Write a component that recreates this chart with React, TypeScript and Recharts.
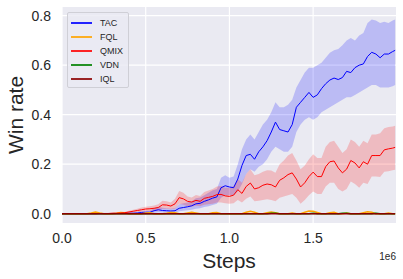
import {
  Area,
  CartesianGrid,
  ComposedChart,
  Label,
  Legend,
  Line,
  XAxis,
  YAxis,
} from "recharts";

// ---------------------------------------------------------------------------
// Data (win rate vs. environment steps, one value per 25k steps)
// ---------------------------------------------------------------------------

const STEPS = [...Array.from({ length: 80 }, (_, i) => i * 25000), 1990000];

const TAC_MEAN = [
  0, 0, 0, 0, 0, 0, 0, 0, 0, 0,
  0, 0, 0.001, 0.001, 0.001, 0.002, 0.002, 0.002, 0.003, 0.005,
  0.006, 0.006, 0.012, 0.016, 0.013, 0.012, 0.011, 0.012, 0.022, 0.025,
  0.028, 0.032, 0.04, 0.042, 0.05, 0.056, 0.063, 0.068, 0.105, 0.113,
  0.108, 0.105, 0.14, 0.195, 0.235, 0.24, 0.22, 0.25, 0.27, 0.295,
  0.33, 0.37, 0.34, 0.335, 0.33, 0.36, 0.43, 0.45, 0.47, 0.49,
  0.47, 0.48, 0.505, 0.525, 0.54, 0.548, 0.542, 0.55, 0.575, 0.57,
  0.59, 0.6, 0.605, 0.635, 0.652, 0.645, 0.63, 0.645, 0.645, 0.655,
  0.66,
];
const TAC_LO = [
  0, 0, 0, 0, 0, 0, 0, 0, 0, 0,
  0, 0, 0, 0, 0, 0, 0, 0, 0, 0.001,
  0.002, 0.002, 0.004, 0.006, 0.005, 0.004, 0.004, 0.004, 0.01, 0.012,
  0.014, 0.016, 0.02, 0.022, 0.027, 0.03, 0.035, 0.04, 0.065, 0.075,
  0.075, 0.075, 0.09, 0.12, 0.16, 0.18, 0.17, 0.19, 0.2, 0.22,
  0.25, 0.27, 0.26, 0.25, 0.25, 0.27, 0.33, 0.36, 0.38, 0.39,
  0.38, 0.39, 0.41, 0.42, 0.43, 0.44, 0.45, 0.46, 0.47, 0.47,
  0.48, 0.49, 0.5, 0.51, 0.52, 0.52, 0.51, 0.51, 0.51, 0.515,
  0.52,
];
const TAC_HI = [
  0, 0, 0, 0, 0, 0, 0, 0, 0, 0,
  0, 0, 0.002, 0.002, 0.003, 0.004, 0.004, 0.005, 0.007, 0.01,
  0.012, 0.012, 0.022, 0.028, 0.024, 0.022, 0.02, 0.022, 0.038, 0.042,
  0.045, 0.05, 0.062, 0.066, 0.075, 0.085, 0.095, 0.1, 0.145, 0.155,
  0.145, 0.15, 0.2, 0.26, 0.3, 0.32, 0.3, 0.33, 0.36, 0.38,
  0.41, 0.45, 0.43, 0.43, 0.44, 0.46, 0.51, 0.54, 0.57, 0.59,
  0.59, 0.6, 0.61, 0.63, 0.65, 0.66, 0.665, 0.68, 0.7, 0.71,
  0.7, 0.72, 0.73, 0.77, 0.785, 0.78, 0.77, 0.775, 0.77, 0.78,
  0.785,
];

const QMIX_MEAN = [
  0, 0, 0, 0, 0, 0, 0, 0, 0, 0.001,
  0.001, 0.001, 0.002, 0.002, 0.003, 0.004, 0.007, 0.01, 0.013, 0.016,
  0.019, 0.02, 0.022, 0.025, 0.036, 0.035, 0.031, 0.04, 0.065, 0.06,
  0.05, 0.047, 0.054, 0.05, 0.062, 0.066, 0.07, 0.077, 0.078, 0.072,
  0.07, 0.075, 0.097, 0.082, 0.11, 0.124, 0.1, 0.105, 0.115, 0.12,
  0.117, 0.108, 0.135, 0.145, 0.158, 0.165, 0.14, 0.108, 0.125, 0.15,
  0.168, 0.15, 0.15, 0.19, 0.21, 0.213, 0.185, 0.165, 0.18, 0.215,
  0.205, 0.185, 0.21, 0.2, 0.235, 0.235, 0.235, 0.258, 0.262, 0.265,
  0.268,
];
const QMIX_LO = [
  0, 0, 0, 0, 0, 0, 0, 0, 0, 0,
  0, 0, 0, 0, 0, 0, 0.002, 0.004, 0.006, 0.008,
  0.01, 0.011, 0.012, 0.013, 0.02, 0.02, 0.018, 0.02, 0.04, 0.036,
  0.03, 0.028, 0.032, 0.03, 0.036, 0.038, 0.04, 0.045, 0.045, 0.042,
  0.04, 0.042, 0.055, 0.045, 0.06, 0.07, 0.05, 0.052, 0.055, 0.058,
  0.055, 0.05, 0.065, 0.07, 0.075, 0.08, 0.065, 0.04, 0.055, 0.075,
  0.09, 0.08, 0.08, 0.11, 0.125, 0.125, 0.1, 0.09, 0.1, 0.13,
  0.12, 0.105, 0.125, 0.12, 0.15, 0.15, 0.148, 0.17, 0.172, 0.176,
  0.178,
];
const QMIX_HI = [
  0, 0, 0, 0, 0, 0, 0, 0, 0, 0.002,
  0.002, 0.003, 0.004, 0.004, 0.005, 0.008, 0.012, 0.016, 0.02, 0.025,
  0.028, 0.03, 0.033, 0.038, 0.052, 0.05, 0.045, 0.06, 0.092, 0.085,
  0.07, 0.066, 0.076, 0.072, 0.088, 0.094, 0.1, 0.11, 0.112, 0.105,
  0.105, 0.112, 0.14, 0.125, 0.16, 0.18, 0.155, 0.16, 0.17, 0.176,
  0.175, 0.165, 0.2, 0.215, 0.235, 0.245, 0.215, 0.18, 0.195, 0.22,
  0.24, 0.225, 0.225, 0.27, 0.29, 0.295, 0.27, 0.245, 0.26, 0.3,
  0.29, 0.27, 0.295, 0.285, 0.32, 0.32, 0.325, 0.345, 0.35, 0.352,
  0.355,
];

const FQL_MEAN = [
  0, 0, 0, 0, 0, 0, 0, 0.003, 0.007, 0.003,
  0, 0, 0, 0.002, 0.005, 0.004, 0, 0, 0, 0,
  0.003, 0.004, 0, 0, 0, 0.002, 0.005, 0.004, 0, 0,
  0.003, 0.006, 0.003, 0, 0, 0, 0.004, 0.005, 0, 0,
  0, 0, 0, 0, 0.006, 0.01, 0.006, 0, 0, 0.004,
  0.007, 0.004, 0, 0, 0, 0.003, 0, 0, 0.006, 0.011,
  0.01, 0.005, 0, 0, 0.004, 0.006, 0, 0, 0.003, 0,
  0, 0, 0.004, 0.008, 0.006, 0, 0, 0, 0.003, 0,
  0,
];
const VDN_MEAN = [
  0, 0, 0, 0, 0, 0, 0, 0, 0, 0,
  0, 0, 0, 0, 0, 0, 0, 0, 0, 0,
  0, 0, 0, 0, 0, 0, 0, 0, 0, 0,
  0, 0, 0, 0, 0, 0, 0, 0, 0, 0,
  0, 0, 0, 0, 0, 0, 0, 0, 0, 0,
  0.002, 0.002, 0, 0, 0, 0, 0, 0, 0, 0,
  0.002, 0, 0, 0, 0, 0, 0, 0.002, 0.002, 0,
  0, 0, 0, 0, 0, 0.002, 0, 0, 0, 0,
  0,
];
const IQL_MEAN = [
  0, 0, 0, 0, 0, 0, 0, 0, 0, 0,
  0, 0, 0, 0, 0, 0, 0, 0, 0, 0,
  0, 0, 0, 0, 0, 0, 0, 0, 0, 0,
  0, 0, 0, 0, 0, 0, 0, 0, 0, 0,
  0, 0, 0, 0, 0, 0, 0, 0, 0, 0,
  0, 0, 0, 0, 0, 0, 0, 0, 0, 0,
  0, 0, 0, 0, 0, 0, 0, 0, 0, 0,
  0, 0, 0, 0, 0, 0, 0, 0, 0, 0,
  0,
];

const X_TICKS = [0, 500000, 1000000, 1500000];
const Y_TICKS = [0, 0.2, 0.4, 0.6, 0.8];

const SERIES = [
  { name: "TAC", color: "#0000ff" },
  { name: "FQL", color: "#ffa500" },
  { name: "QMIX", color: "#ff0000" },
  { name: "VDN", color: "#008000" },
  { name: "IQL", color: "#8b0000" },
];

const data = STEPS.map((step, i) => ({
  step,
  tac: TAC_MEAN[i],
  tacBand: [TAC_LO[i], TAC_HI[i]],
  qmix: QMIX_MEAN[i],
  qmixBand: [QMIX_LO[i], QMIX_HI[i]],
  fql: FQL_MEAN[i],
  vdn: VDN_MEAN[i],
  iql: IQL_MEAN[i],
}));

const FONT = '"Liberation Sans", Arial, sans-serif';
const TEXT = "#262626";

// ---------------------------------------------------------------------------
// Legend + axis labels
// ---------------------------------------------------------------------------

function LegendBox() {
  return (
    <div
      style={{
        width: 60,
        padding: "3px 0 1px 0",
        background: "rgba(234,234,242,0.8)",
        border: "1px solid #cfcfd6",
        borderRadius: 2,
        fontFamily: FONT,
        fontSize: 9,
        color: TEXT,
      }}
    >
      {SERIES.map((s) => (
        <div
          key={s.name}
          style={{ display: "flex", alignItems: "center", height: 14 }}
        >
          <div
            style={{
              width: 21,
              height: 1.5,
              marginLeft: 3,
              marginRight: 8,
              background: s.color,
              opacity: 0.85,
            }}
          />
          <span>{s.name}</span>
        </div>
      ))}
    </div>
  );
}

type ViewBox = { x: number; y: number; width: number; height: number };

function YLabel(props: { viewBox?: ViewBox }) {
  const vb = props.viewBox;
  if (!vb) return null;
  const cx = vb.x + 15;
  const cy = vb.y + vb.height / 2;
  return (
    <text
      x={cx}
      y={cy}
      transform={`rotate(-90 ${cx} ${cy})`}
      textAnchor="middle"
      dominantBaseline="central"
      fill={TEXT}
      fontSize={21}
      fontFamily={FONT}
    >
      Win rate
    </text>
  );
}

function OffsetLabel(props: { viewBox?: ViewBox }) {
  const vb = props.viewBox;
  if (!vb) return null;
  return (
    <text
      x={vb.x + vb.width}
      y={vb.y + 37}
      textAnchor="end"
      fill={TEXT}
      fontSize={10}
      fontFamily={FONT}
    >
      1e6
    </text>
  );
}

// ---------------------------------------------------------------------------
// Chart
// ---------------------------------------------------------------------------

export default function App() {
  return (
    <div style={{ position: "absolute", left: 0, top: 0, background: "#fff" }}>
      <ComposedChart
        width={403}
        height={279}
        data={data}
        margin={{ top: 7, right: 7, left: 0, bottom: 0 }}
      >
        <CartesianGrid
          fill="#eaeaf2"
          stroke="#ffffff"
          strokeWidth={1.2}
          horizontalValues={Y_TICKS}
          verticalValues={X_TICKS}
        />
        <XAxis
          dataKey="step"
          type="number"
          domain={[0, 1995000]}
          ticks={X_TICKS}
          allowDataOverflow
          height={56}
          axisLine={false}
          tickLine={false}
          tickSize={0}
          tickMargin={10}
          tick={{ fill: TEXT, fontSize: 14, fontFamily: FONT }}
          tickFormatter={(v: number) => (v / 1e6).toFixed(1)}
        >
          <Label
            value="Steps"
            position="insideBottom"
            offset={11}
            style={{ fill: TEXT, fontSize: 21, fontFamily: FONT }}
          />
          <Label content={<OffsetLabel />} />
        </XAxis>
        <YAxis
          type="number"
          domain={[-0.0375, 0.835]}
          ticks={Y_TICKS}
          allowDataOverflow
          width={62}
          axisLine={false}
          tickLine={false}
          tickSize={0}
          tickMargin={11}
          tick={{ fill: TEXT, fontSize: 14, fontFamily: FONT }}
          tickFormatter={(v: number) => v.toFixed(1)}
        >
          <Label content={<YLabel />} />
        </YAxis>
        <Legend
          layout="vertical"
          align="center"
          verticalAlign="middle"
          content={<LegendBox />}
          wrapperStyle={{ left: 67, top: 12, width: 62 }}
        />
        <Area
          dataKey="tacBand"
          stroke="none"
          fill="#0000ff"
          fillOpacity={0.2}
          isAnimationActive={false}
          legendType="none"
        />
        <Area
          dataKey="qmixBand"
          stroke="none"
          fill="#ff0000"
          fillOpacity={0.2}
          isAnimationActive={false}
          legendType="none"
        />
        <Line
          dataKey="tac"
          stroke="#0000ff"
          strokeWidth={1}
          dot={false}
          isAnimationActive={false}
        />
        <Line
          dataKey="fql"
          stroke="#ffa500"
          strokeWidth={1.5}
          dot={false}
          isAnimationActive={false}
        />
        <Line
          dataKey="qmix"
          stroke="#ff0000"
          strokeWidth={1}
          dot={false}
          isAnimationActive={false}
        />
        <Line
          dataKey="vdn"
          stroke="#008000"
          strokeWidth={1.5}
          dot={false}
          isAnimationActive={false}
        />
        <Line
          dataKey="iql"
          stroke="#8b0000"
          strokeWidth={1.5}
          dot={false}
          isAnimationActive={false}
        />
      </ComposedChart>
    </div>
  );
}
